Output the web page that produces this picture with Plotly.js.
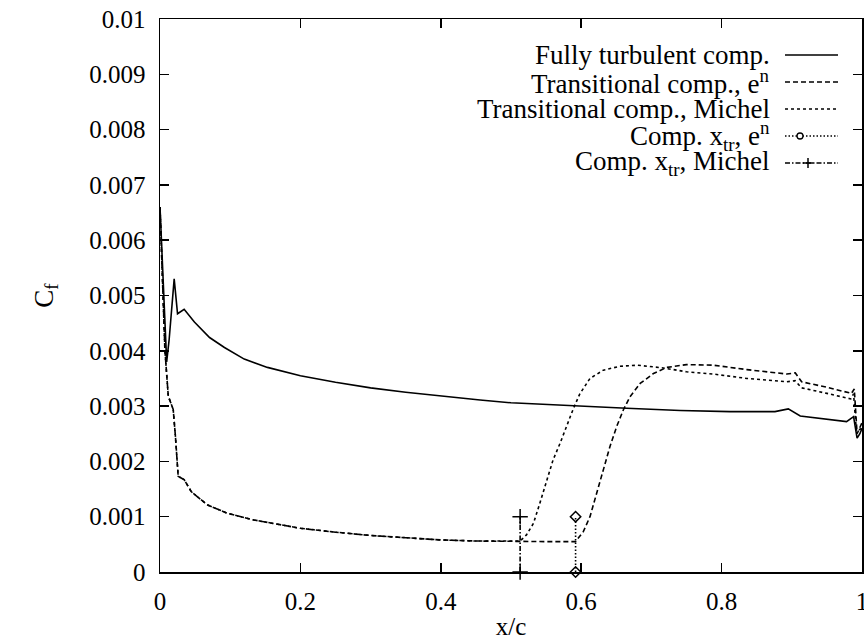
<!DOCTYPE html>
<html><head><meta charset="utf-8">
<script src="https://cdn.plot.ly/plotly-3.0.1.min.js"></script>
<style>html,body{margin:0;padding:0;background:#fff}#chart{width:864px;height:641px}</style>
</head><body><div id="chart"></div>
<script>
// Fully turbulent computation
const turbX  = [0.0, 0.002, 0.005, 0.0095, 0.013, 0.0165, 0.0202, 0.025, 0.0344, 0.049, 0.0706, 0.0918, 0.12, 0.153, 0.2, 0.25, 0.3, 0.35, 0.4, 0.456, 0.5, 0.5935, 0.665, 0.741, 0.812, 0.876, 0.895, 0.912, 0.94, 0.978, 0.988, 0.993, 0.997, 1.0];
const turbCf = [0.0066, 0.006, 0.0049, 0.0038, 0.0042, 0.00473, 0.0053, 0.00467, 0.00475, 0.00452, 0.00424, 0.00406, 0.00385, 0.0037, 0.00355, 0.00343, 0.00333, 0.00325, 0.00318, 0.00311, 0.00306, 0.0030, 0.00296, 0.00292, 0.0029, 0.0029, 0.00295, 0.00282, 0.00278, 0.00272, 0.00281, 0.00242, 0.0025, 0.0026];

// Transitional computation, e^n
const enX  = [0.0, 0.003, 0.007, 0.0118, 0.0188, 0.022, 0.0259, 0.0344, 0.0447, 0.068, 0.0965, 0.134, 0.2, 0.25, 0.3, 0.35, 0.4, 0.45, 0.5, 0.55, 0.592, 0.603, 0.6125, 0.622, 0.6315, 0.641, 0.6505, 0.66, 0.6695, 0.684, 0.703, 0.722, 0.75, 0.788, 0.836, 0.893, 0.905, 0.914, 0.95, 0.985, 0.989, 0.993, 1.0];
const enCf = [0.0066, 0.0055, 0.00401, 0.00318, 0.00294, 0.00245, 0.00173, 0.00167, 0.00145, 0.00121, 0.00106, 0.00094, 0.00079, 0.00072, 0.00066, 0.00062, 0.00058, 0.00056, 0.00055, 0.00055, 0.00055, 0.00073, 0.0010, 0.00142, 0.00184, 0.00227, 0.00263, 0.00293, 0.00317, 0.00341, 0.00359, 0.0037, 0.00375, 0.00374, 0.00366, 0.00358, 0.0036, 0.00344, 0.00334, 0.00323, 0.00331, 0.0025, 0.0027];

// Transitional computation, Michel
const michelX  = [0.0, 0.003, 0.007, 0.0118, 0.0188, 0.022, 0.0259, 0.0344, 0.0447, 0.068, 0.0965, 0.134, 0.2, 0.25, 0.3, 0.35, 0.4, 0.45, 0.5, 0.513, 0.522, 0.532, 0.541, 0.551, 0.56, 0.57, 0.579, 0.589, 0.598, 0.6125, 0.6315, 0.655, 0.68, 0.717, 0.75, 0.788, 0.836, 0.893, 0.9046, 0.914, 0.95, 0.984, 0.988, 0.992, 1.0];
const michelCf = [0.0066, 0.0055, 0.00401, 0.00318, 0.00294, 0.00245, 0.00173, 0.00167, 0.00145, 0.00121, 0.00106, 0.00094, 0.00079, 0.00072, 0.00066, 0.00062, 0.00058, 0.00056, 0.00055, 0.00056, 0.00067, 0.00088, 0.00124, 0.00166, 0.00203, 0.00233, 0.00263, 0.00296, 0.00322, 0.00350, 0.00365, 0.00372, 0.00374, 0.00369, 0.00362, 0.00358, 0.0035, 0.00344, 0.00346, 0.00333, 0.00323, 0.00313, 0.00322, 0.00255, 0.0026];

// Computed transition locations
const xtrEnX = [0.592, 0.592];
const xtrEnCf = [0.0, 0.001];
const xtrMichelX = [0.513, 0.513];
const xtrMichelCf = [0.0, 0.001];

const xTickVals = [0, 0.2, 0.4, 0.6, 0.8, 1];
const xTickText = ['0', '0.2', '0.4', '0.6', '0.8', '1'];
const yTickVals = [0, 0.001, 0.002, 0.003, 0.004, 0.005, 0.006, 0.007, 0.008, 0.009, 0.01];
const yTickText = ['0', '0.001', '0.002', '0.003', '0.004', '0.005', '0.006', '0.007', '0.008', '0.009', '0.01'];

const legendLabels = ['Fully turbulent comp.', 'Transitional comp., e<sup>n</sup>', 'Transitional comp., Michel', 'Comp. x<sub>tr</sub>, e<sup>n</sup>', 'Comp. x<sub>tr</sub>, Michel'];

const FONT = 'Liberation Serif';
const dashes = ['solid', '5px,3px', '3px,3px', '1.5px,2px', '5px,2px,1.5px,2px'];
const LW = 1.6;

const traces = [
  {x: turbX, y: turbCf, mode: 'lines', line: {color: '#000', width: LW, dash: dashes[0]}},
  {x: enX, y: enCf, mode: 'lines', line: {color: '#000', width: LW, dash: dashes[1]}},
  {x: michelX, y: michelCf, mode: 'lines', line: {color: '#000', width: LW, dash: dashes[2]}},
  {x: xtrEnX, y: xtrEnCf, mode: 'lines+markers', cliponaxis: false, line: {color: '#000', width: LW, dash: dashes[3]},
   marker: {symbol: 'diamond-open', size: 8, color: '#000', line: {width: 1.5, color: '#000'}}},
  {x: xtrMichelX, y: xtrMichelCf, mode: 'lines+markers', cliponaxis: false, line: {color: '#000', width: LW, dash: dashes[4]},
   marker: {symbol: 'cross-thin-open', size: 11, color: '#000', line: {width: 1.5, color: '#000'}}}
];

// custom legend (text right-aligned, sample to the right), gnuplot style
const plotL = 160, plotR = 862, plotT = 19, plotB = 572;
const px2paperX = p => (p - plotL) / (plotR - plotL);
const px2paperY = p => (plotB - p) / (plotB - plotT);
const rowPx = [55, 82, 109, 136, 163];
const annotations = [];
const shapes = [];
legendLabels.forEach((t, i) => {
  const yp = px2paperY(rowPx[i]);
  annotations.push({xref: 'paper', yref: 'paper', x: px2paperX(771), y: yp, xanchor: 'right', yanchor: 'middle',
    text: t, showarrow: false, borderpad: 0, font: {family: FONT, size: 27, color: '#000'}});
  shapes.push({type: 'line', xref: 'paper', yref: 'paper', x0: px2paperX(785), x1: px2paperX(838), y0: yp, y1: yp,
    line: {color: '#000', width: LW, dash: dashes[i]}});
});
// legend point symbols
(function(){
  const yc4 = rowPx[3], xc4 = 800;
  shapes.push({type: 'circle', xref: 'paper', yref: 'paper', x0: px2paperX(xc4 - 3), x1: px2paperX(xc4 + 3),
    y0: px2paperY(yc4 + 3), y1: px2paperY(yc4 - 3), line: {color: '#000', width: 1.3}, fillcolor: '#fff'});
  const yc5 = rowPx[4], xc5 = 808;
  shapes.push({type: 'line', xref: 'paper', yref: 'paper', x0: px2paperX(xc5 - 5), x1: px2paperX(xc5 + 5),
    y0: px2paperY(yc5), y1: px2paperY(yc5), line: {color: '#000', width: 1.5}});
  shapes.push({type: 'line', xref: 'paper', yref: 'paper', x0: px2paperX(xc5), x1: px2paperX(xc5),
    y0: px2paperY(yc5 - 5), y1: px2paperY(yc5 + 5), line: {color: '#000', width: 1.5}});
})();

const axisCommon = {
  showline: true, linecolor: '#000', linewidth: 1.5, mirror: 'ticks',
  ticks: 'inside', ticklen: 9, tickwidth: 1.5, tickcolor: '#000',
  showgrid: false, zeroline: false, tickmode: 'array', ticklabeloverflow: 'allow',
  tickfont: {family: FONT, size: 25, color: '#000'}
};

const layout = {
  width: 864, height: 641,
  margin: {l: plotL, r: 864 - plotR, t: plotT, b: 641 - plotB},
  paper_bgcolor: '#fff', plot_bgcolor: '#fff',
  showlegend: false,
  font: {family: FONT, color: '#000'},
  xaxis: Object.assign({}, axisCommon, {range: [0, 1], tickvals: xTickVals, ticktext: xTickText,
    ticklabelstandoff: 6,
    title: {text: 'x/c', font: {family: FONT, size: 25, color: '#000'}, standoff: 4}}),
  yaxis: Object.assign({}, axisCommon, {range: [0, 0.01], tickvals: yTickVals, ticktext: yTickText,
    ticklabelstandoff: 8,
    title: {text: 'C<sub>f</sub>', font: {family: FONT, size: 27, color: '#000'}, standoff: 28}}),
  annotations: annotations,
  shapes: shapes
};

Plotly.newPlot('chart', traces, layout, {displayModeBar: false, staticPlot: true});
</script>
</body></html>
